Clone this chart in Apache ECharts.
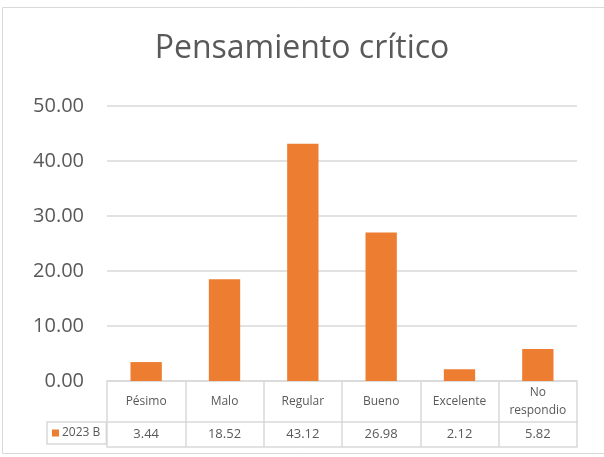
<!DOCTYPE html>
<html>
<head>
<meta charset="utf-8">
<script src="https://cdn.jsdelivr.net/npm/echarts@6/dist/echarts.min.js"></script>
<style>
  html, body { margin: 0; padding: 0; background: #fff; }
  #chart { width: 604px; height: 457px; }
</style>
</head>
<body>
<div id="chart"></div>
<script>
  // datos del grafico
  var categorias = ['Pésimo', 'Malo', 'Regular', 'Bueno', 'Excelente', 'No\nrespondio'];
  var valores = [3.44, 18.52, 43.12, 26.98, 2.12, 5.82];
  var serieNombre = '2023 B';
  var titulo = 'Pensamiento crítico';

  var texto = '#595959';
  var linea = '#D9D9D9';
  var fuente = '"Open Sans", "Noto Sans", sans-serif';

  var myChart = echarts.init(document.getElementById('chart'));

  var option = {
    animation: false,
    title: {
      text: titulo,
      left: 'center',
      top: 28,
      textStyle: { fontFamily: fuente, fontSize: 32, fontWeight: 'normal', color: texto }
    },
    graphic: [{
      type: 'rect',
      shape: { x: 2.5, y: 7.5, width: 700, height: 446 },
      style: { fill: 'none', stroke: linea, lineWidth: 1 },
      silent: true
    }],
    legend: {
      left: 47,
      top: 422,
      padding: [5, 6, 5, 5],
      itemWidth: 7,
      itemHeight: 7,
      itemGap: 0,
      icon: 'rect',
      borderColor: linea,
      borderWidth: 1.5,
      textStyle: { fontFamily: fuente, fontSize: 12, color: texto, padding: [0, 0, 0, -2] },
      data: [serieNombre]
    },
    grid: { left: 107, right: 27, top: 106, bottom: 76, containLabel: false },
    xAxis: [{
      type: 'category',
      data: categorias,
      position: 'bottom',
      axisLine: { show: true, lineStyle: { color: linea, width: 1.5 } },
      axisTick: { show: true, length: 66, lineStyle: { color: linea, width: 1.5 } },
      axisLabel: {
        interval: 0, margin: 21, verticalAlign: 'middle',
        fontFamily: fuente, fontSize: 12, lineHeight: 18, color: texto
      }
    }, {
      type: 'category',
      data: categorias,
      position: 'bottom',
      offset: 41,
      axisLine: { show: true, lineStyle: { color: linea, width: 1.5 } },
      axisTick: { show: false },
      axisLabel: {
        interval: 0, margin: 12, verticalAlign: 'middle',
        fontFamily: fuente, fontSize: 13, color: texto,
        formatter: function (v, i) { return valores[i].toFixed(2); }
      }
    }, {
      type: 'category',
      data: categorias,
      position: 'bottom',
      offset: 66,
      axisLine: { show: true, lineStyle: { color: linea, width: 1.5 } },
      axisTick: { show: false },
      axisLabel: { show: false }
    }],
    yAxis: {
      type: 'value',
      min: 0,
      max: 50,
      interval: 10,
      axisLine: { show: false },
      axisTick: { show: false },
      axisLabel: {
        margin: 23,
        fontFamily: fuente, fontSize: 20, color: texto,
        formatter: function (v) { return v.toFixed(2); }
      },
      splitLine: { lineStyle: { color: linea, width: 1.5 } }
    },
    series: [{
      name: serieNombre,
      type: 'bar',
      xAxisIndex: 0,
      data: valores,
      barWidth: '40%',
      itemStyle: { color: '#ED7D31' }
    }]
  };

  myChart.setOption(option);
</script>
</body>
</html>
